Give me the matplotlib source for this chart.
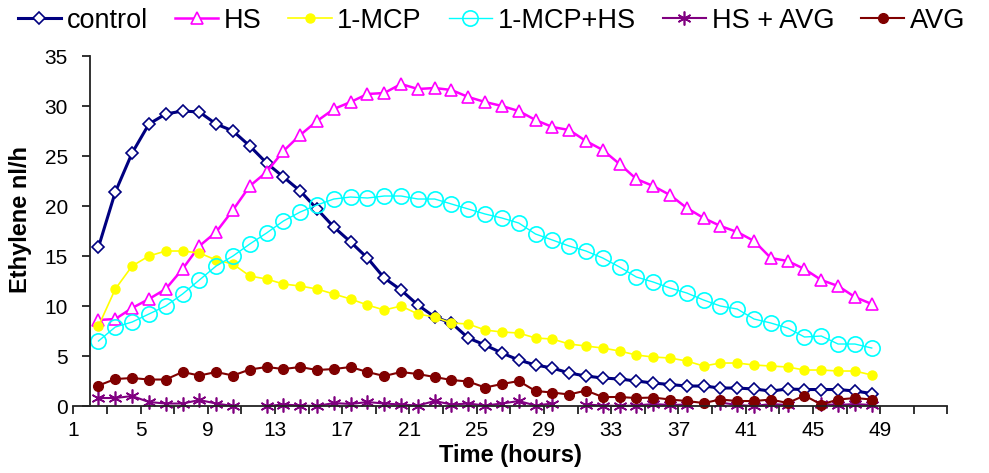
import numpy as np
import matplotlib
matplotlib.use("Agg")
import matplotlib.pyplot as plt

plt.rcParams['font.family'] = ['Liberation Sans', 'DejaVu Sans']

# ---------------- data ----------------
hours = np.arange(2.5, 48.6, 1.0)   # sampling positions on the time axis

control = [15.9, 21.4, 25.3, 28.2, 29.2, 29.5, 29.4, 28.2, 27.5, 26.0,
           24.3, 22.9, 21.5, 19.7, 17.9, 16.4, 14.8, 12.8, 11.6, 10.1,
           8.9, 8.3, 6.8, 6.1, 5.3, 4.6, 4.1, 3.8, 3.3, 3.0,
           2.8, 2.7, 2.5, 2.3, 2.15, 2.0, 2.0, 1.8, 1.8, 1.7,
           1.5, 1.7, 1.65, 1.65, 1.65, 1.5, 1.25]

hs = [8.6, 8.7, 9.8, 10.7, 11.7, 13.7, 16.0, 17.4, 19.6, 22.0,
      23.4, 25.5, 27.1, 28.5, 29.7, 30.4, 31.2, 31.3, 32.2, 31.7,
      31.8, 31.6, 30.9, 30.4, 30.0, 29.5, 28.6, 27.9, 27.6, 26.5,
      25.6, 24.2, 22.7, 22.0, 21.1, 19.8, 18.8, 18.0, 17.4, 16.5,
      14.8, 14.5, 13.7, 12.6, 12.0, 10.9, 10.2]

mcp = [8.0, 11.7, 14.0, 15.0, 15.5, 15.5, 15.3, 14.6, 14.2, 13.0,
       12.7, 12.2, 12.0, 11.7, 11.2, 10.7, 10.1, 9.6, 10.0, 9.2,
       8.9, 8.3, 8.2, 7.6, 7.4, 7.3, 6.8, 6.7, 6.2, 6.0,
       5.8, 5.5, 5.1, 4.9, 4.8, 4.5, 4.0, 4.3, 4.3, 4.1,
       4.0, 3.9, 3.6, 3.6, 3.5, 3.5, 3.1]

mcp_hs = [6.5, 7.9, 8.4, 9.2, 10.0, 11.2, 12.6, 14.0, 15.0, 16.2,
          17.3, 18.5, 19.4, 20.1, 20.7, 20.9, 20.8, 21.0, 21.0, 20.7,
          20.7, 20.2, 19.7, 19.2, 18.8, 18.3, 17.2, 16.6, 16.0, 15.5,
          14.8, 13.9, 12.9, 12.4, 11.8, 11.3, 10.6, 10.0, 9.7, 8.7,
          8.3, 7.8, 6.9, 7.0, 6.2, 6.2, 5.8]

hs_avg = [0.8, 0.8, 1.0, 0.4, 0.25, 0.25, 0.6, 0.25, 0.0, np.nan,
          0.0, 0.15, 0.05, 0.0, 0.3, 0.2, 0.4, 0.25, 0.15, 0.05,
          0.5, 0.15, 0.25, 0.05, 0.25, 0.5, 0.05, 0.25, np.nan, 0.15,
          0.05, 0.0, 0.05, 0.2, 0.1, 0.15, np.nan, 0.35, 0.1, 0.0,
          0.2, 0.1, np.nan, 0.2, 0.1, 0.2, 0.1]

avg = [2.05, 2.7, 2.8, 2.65, 2.65, 3.4, 3.05, 3.4, 3.05, 3.65,
       3.9, 3.7, 3.9, 3.6, 3.7, 3.9, 3.4, 3.0, 3.4, 3.2,
       2.9, 2.6, 2.45, 1.85, 2.2, 2.5, 1.5, 1.35, 1.15, 1.55,
       0.9, 0.9, 0.8, 0.85, 0.65, 0.5, 0.3, 0.65, 0.5, 0.5,
       0.65, 0.3, 1.05, 0.15, 0.65, 0.8, 0.65]

x_ticks = list(range(1, 54, 2))
x_labels = [str(v) if (v - 1) % 4 == 0 and v <= 49 else '' for v in x_ticks]
y_ticks = [0, 5, 10, 15, 20, 25, 30, 35]

# ---------------- figure ----------------
fig = plt.figure(figsize=(9.89, 4.73), dpi=100)
ax = fig.add_axes([0.0741, 0.1416, 0.8838, 0.740])

ax.plot(hours, control, color='#000080', lw=2.2, marker='D', ms=6,
        mfc='white', mec='#000080', mew=1.2, label='control', clip_on=False)
ax.plot(hours, hs, color='#FF00FF', lw=1.8, marker='^', ms=8.5,
        mfc='white', mec='#FF00FF', mew=1.2, label='HS', clip_on=False)
ax.plot(hours, mcp, color='#FFFF00', lw=1.2, marker='o', ms=6.5,
        mfc='#FFFF00', mec='#FFFF00', label='1-MCP', clip_on=False)
ax.plot(hours, mcp_hs, color='#00FFFF', lw=1.0, marker='o', ms=11,
        mfc='none', mec='#00FFFF', mew=1.2, label='1-MCP+HS', clip_on=False)
ax.plot(hours, hs_avg, color='#800080', lw=1.5, marker=(6, 2, 0), ms=10,
        mec='#800080', mew=1.2, label='HS + AVG', clip_on=False)
ax.plot(hours, avg, color='#800000', lw=1.5, marker='o', ms=7,
        mfc='#800000', mec='#800000', label='AVG', clip_on=False)

ax.set_xlim(1, 53)
ax.set_ylim(0, 35)

ax.spines['top'].set_visible(False)
ax.spines['right'].set_visible(False)
ax.spines['left'].set_position(('data', 2))
for s in ('left', 'bottom'):
    ax.spines[s].set_linewidth(1.3)
    ax.spines[s].set_color('#222222')

ax.set_xticks(x_ticks)
ax.set_xticklabels(x_labels)
ax.set_yticks(y_ticks)
ax.tick_params(axis='both', direction='out', length=6, width=1.3,
               color='#222222', labelsize=15)
ax.tick_params(axis='y', pad=10)
ax.tick_params(axis='x', pad=5)

ax.set_xlabel('Time (hours)', fontsize=17, fontweight='bold', labelpad=3)
fig.text(0.021, 0.535, 'Ethylene nl/h', rotation=90, fontsize=17,
         fontweight='bold', ha='center', va='center')

fig.legend(loc='upper center', bbox_to_anchor=(0.497, 1.035), ncol=6,
           frameon=False, fontsize=19.5, handlelength=1.6, handletextpad=0.2,
           columnspacing=1.0, numpoints=1)

fig.savefig('out.png', dpi=100)
